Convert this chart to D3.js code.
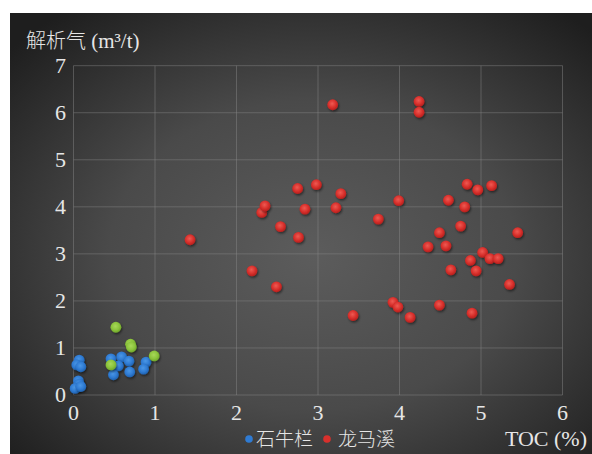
<!DOCTYPE html>
<html><head><meta charset="utf-8">
<script src="https://cdn.jsdelivr.net/npm/d3@7/dist/d3.min.js"></script>
<style>
html,body{margin:0;padding:0;background:#fff;}
svg{display:block;}
.sf{font-family:"Liberation Serif","Times New Roman",Times,Tinos,"Nimbus Roman","Nimbus Roman No9 L","FreeSerif","Noto Serif","DejaVu Serif","Noto Serif CJK SC",serif;}
.cj{font-family:"Noto Sans CJK SC","Noto Sans",sans-serif;font-weight:300;}
</style></head>
<body><svg id="c" width="592" height="454"></svg>
<script>
const xTicks = [0,1,2,3,4,5,6];
const yTicks = [0,1,2,3,4,5,6,7];
const yTitleCJK = "解析气";
const yTitleUnit = " (m³/t)";
const xTitle = "TOC (%)";
const legendNames = ["石牛栏","龙马溪"];

// 龙马溪 (red)
const lmxTOC = [1.43,2.19,2.49,2.31,2.35,2.54,2.76,2.75,2.84,2.98,3.22,3.28,3.18,3.74,3.99,3.43,3.92,3.98,
  4.24,4.24,4.83,4.96,5.13,4.60,4.80,4.75,4.49,5.45,4.35,4.57,5.02,4.87,5.11,5.21,4.63,4.94,5.35,4.49,4.13,4.89];
const lmxGas = [3.30,2.64,2.30,3.88,4.02,3.58,3.35,4.39,3.95,4.47,3.98,4.28,6.17,3.74,4.13,1.69,1.97,1.87,
  6.24,6.01,4.48,4.36,4.45,4.14,4.00,3.59,3.45,3.45,3.15,3.17,3.03,2.86,2.90,2.90,2.66,2.64,2.35,1.91,1.65,1.74];
// 石牛栏 (blue)
const snlTOC = [0.07,0.04,0.09,0.06,0.07,0.02,0.09,0.46,0.59,0.68,0.55,0.49,0.69,0.89,0.86];
const snlGas = [0.74,0.64,0.60,0.30,0.23,0.14,0.18,0.77,0.81,0.72,0.62,0.43,0.49,0.70,0.55];
// green (no legend entry)
const grnTOC = [0.52,0.70,0.71,0.99,0.46];
const grnGas = [1.44,1.08,1.02,0.83,0.64];

const svg = d3.select("#c");
const defs = svg.append("defs");
const bg = defs.append("radialGradient").attr("id","bg").attr("cx","52%").attr("cy","55%").attr("r","70%");
bg.append("stop").attr("offset","0%").attr("stop-color","#5c5c5c");
bg.append("stop").attr("offset","50%").attr("stop-color","#4a4a4a");
bg.append("stop").attr("offset","100%").attr("stop-color","#1e1e1e");

function ballGrad(id, light, mid, dark){
  const g = defs.append("radialGradient").attr("id",id).attr("cx","45%").attr("cy","40%").attr("r","60%");
  g.append("stop").attr("offset","0%").attr("stop-color",light);
  g.append("stop").attr("offset","60%").attr("stop-color",mid);
  g.append("stop").attr("offset","100%").attr("stop-color",dark);
}
ballGrad("gRed","#ee5a52","#d8302c","#b5201d");
ballGrad("gBlue","#4a97e6","#2f7bd3","#1f61ae");
ballGrad("gGreen","#a8d85a","#8cc43c","#6fa52a");
const sh = defs.append("filter").attr("id","sh").attr("x","-50%").attr("y","-50%").attr("width","200%").attr("height","200%");
sh.append("feDropShadow").attr("dx",1).attr("dy",1.5).attr("stdDeviation",1.2).attr("flood-color","#000").attr("flood-opacity",0.5);

svg.append("rect").attr("x",10).attr("y",13).attr("width",582).attr("height",441).attr("fill","url(#bg)");

const x = d3.scaleLinear().domain([0,6]).range([73.5,562.5]);
const y = d3.scaleLinear().domain([0,7]).range([395,65.7]);

const grid = svg.append("g").attr("stroke","#8a8a8a").attr("stroke-opacity",0.45).attr("stroke-width",1);
grid.selectAll("line.v").data(xTicks).join("line")
  .attr("x1",d=>x(d)).attr("x2",d=>x(d)).attr("y1",y(0)).attr("y2",y(7));
grid.selectAll("line.h").data(yTicks).join("line")
  .attr("x1",x(0)).attr("x2",x(6)).attr("y1",d=>y(d)).attr("y2",d=>y(d));

const tc = "#e6e6e6";

svg.append("g").selectAll("text").data(yTicks).join("text").attr("class","sf")
  .attr("x",66).attr("y",d=>y(d)+7).attr("text-anchor","end")
  .attr("font-size",22).attr("fill",tc).text(d=>d);
svg.append("g").selectAll("text").data(xTicks).join("text").attr("class","sf")
  .attr("x",d=>x(d)).attr("y",420).attr("text-anchor","middle")
  .attr("font-size",22).attr("fill",tc).text(d=>d);

const t = svg.append("text").attr("x",26).attr("y",48).attr("fill",tc).attr("font-size",20);
t.append("tspan").attr("class","cj").text(yTitleCJK);
t.append("tspan").attr("class","sf").attr("font-size",21).text(yTitleUnit);

svg.append("text").attr("class","sf").attr("x",587).attr("y",446).attr("text-anchor","end")
  .attr("font-size",22).attr("fill",tc).text(xTitle);

function series(xs, ys, fill){
  svg.append("g").selectAll("circle").data(xs.map((v,i)=>[v,ys[i]])).join("circle")
    .attr("cx",d=>x(d[0])).attr("cy",d=>y(d[1])).attr("r",5.4)
    .attr("fill",fill).attr("filter","url(#sh)");
}
series(snlTOC, snlGas, "url(#gBlue)");
series(grnTOC, grnGas, "url(#gGreen)");
series(lmxTOC, lmxGas, "url(#gRed)");

// legend
const lg = svg.append("g");
lg.append("circle").attr("cx",249).attr("cy",439).attr("r",3.8).attr("fill","#2f7bd3");
lg.append("text").attr("class","cj").attr("x",256).attr("y",446)
  .attr("font-size",19).attr("fill",tc).text(legendNames[0]);
lg.append("circle").attr("cx",327).attr("cy",439).attr("r",3.8).attr("fill","#d8302c");
lg.append("text").attr("class","cj").attr("x",338).attr("y",446)
  .attr("font-size",19).attr("fill",tc).text(legendNames[1]);
</script></body></html>
